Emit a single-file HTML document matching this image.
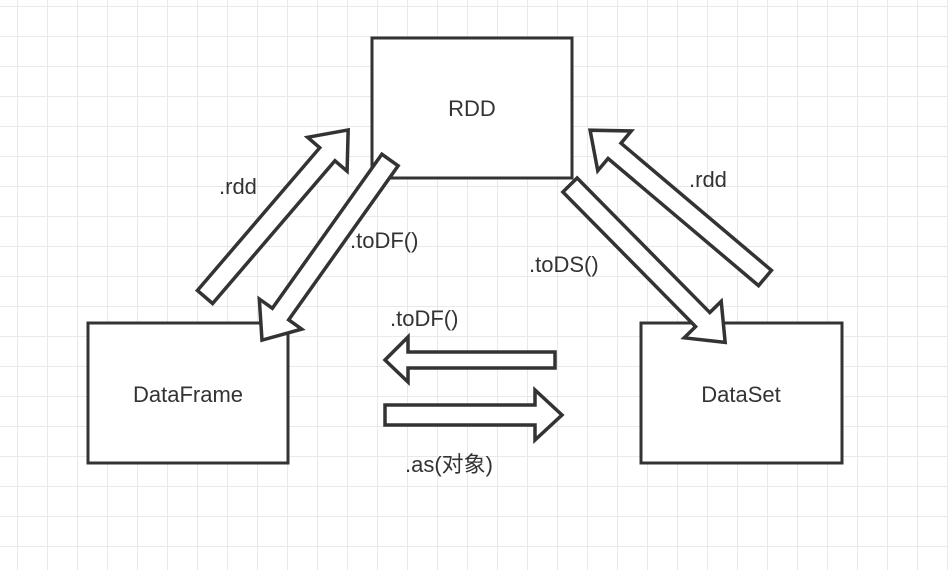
<!DOCTYPE html>
<html><head><meta charset="utf-8"><style>
html,body{margin:0;padding:0;background:#fff}
svg{display:block}
text{font-family:"Liberation Sans","Noto Sans CJK SC",sans-serif;fill:#333}
</style></head><body>
<svg width="948" height="570" viewBox="0 0 948 570" xmlns="http://www.w3.org/2000/svg">
<defs>
<pattern id="g" x="17" y="6" width="30" height="30" patternUnits="userSpaceOnUse">
<path d="M0 0V30M0 0H30" stroke="#e9e9e9" stroke-width="2" fill="none"/>
</pattern>
</defs>
<rect width="948" height="570" fill="url(#g)"/>
<g fill="#fff" stroke="#333" stroke-width="3">
<rect x="372" y="38" width="200" height="140"/>
<rect x="88" y="323" width="200" height="140"/>
<rect x="641" y="323" width="201" height="140"/>
</g>
<g fill="#fff" stroke="#333" stroke-width="3.5" stroke-linejoin="miter">
<polygon transform="translate(205,297) rotate(-49.4)" points="0,-10 188,-10 188,-26 220,0 188,26 188,10 0,10"/>
<polygon transform="translate(390,160) rotate(125.4)" points="0,-10 189,-10 189,-26 221,0 189,26 189,10 0,10"/>
<polygon transform="translate(570,185) rotate(45.4)" points="0,-10 189,-10 189,-26 221,0 189,26 189,10 0,10"/>
<polygon transform="translate(765,278) rotate(220.2)" points="0,-10 197,-10 197,-26 229,0 197,26 197,10 0,10"/>
<polygon points="555,352 408,352 408,337 385,360 408,382 408,368 555,368"/>
<polygon points="385,405 535,405 535,390 562,415 535,440 535,425 385,425"/>
</g>
<g font-size="22" text-anchor="middle">
<text x="472" y="116">RDD</text>
<text x="188" y="402">DataFrame</text>
<text x="741" y="402">DataSet</text>
</g>
<g font-size="22">
<text x="219" y="194">.rdd</text>
<text x="350" y="248">.toDF()</text>
<text x="529" y="272">.toDS()</text>
<text x="689" y="187">.rdd</text>
<text x="390" y="326">.toDF()</text>
<text x="405" y="472">.as(对象)</text>
</g>
</svg>
</body></html>
